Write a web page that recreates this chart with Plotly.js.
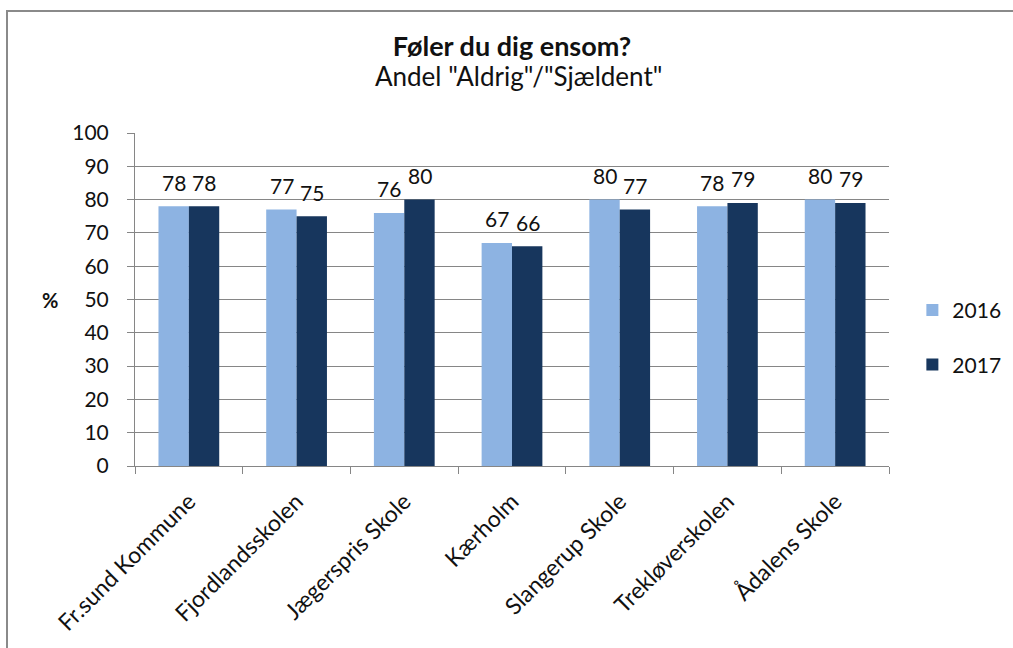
<!DOCTYPE html>
<html>
<head>
<meta charset="utf-8">
<script src="https://cdn.plot.ly/plotly-3.0.1.min.js"></script>
<style>
  html, body { margin: 0; padding: 0; background: #fff; }
  #wrap { position: relative; width: 1013px; height: 648px; }
  #chart { position: absolute; left: 0; top: 0; width: 1013px; height: 648px; }
  #frame { position: absolute; left: 6px; top: 10px; width: 1020px; height: 700px;
           border-left: 2px solid #8a8a8a; border-top: 2px solid #8a8a8a; pointer-events: none; }
</style>
</head>
<body>
<div id="wrap">
  <div id="chart"></div>
  <div id="frame"></div>
</div>
<script>
const categories = ["Fr.sund Kommune", "Fjordlandsskolen", "Jægerspris Skole", "Kærholm", "Slangerup Skole", "Trekløverskolen", "Ådalens Skole"];
const values2016 = [78, 77, 76, 67, 80, 78, 80];
const values2017 = [78, 75, 80, 66, 77, 79, 79];
const seriesNames = ["2016", "2017"];
const titleText = "Føler du dig ensom?";
const subtitleText = 'Andel "Aldrig"/"Sjældent"';
const yLabel = "%";

const FONT = "Lato, 'Open Sans', sans-serif";
const colors = ["#8db3e2", "#17365d"];

const traces = [values2016, values2017].map((vals, i) => ({
  type: "bar",
  name: seriesNames[i],
  x: categories,
  y: vals,
  marker: { color: colors[i], line: { width: 0 } },
  hoverinfo: "x+y+name",
  legendgroup: "g" + i
}));

const annotations = [];
[values2016, values2017].forEach((vals, i) => {
  vals.forEach((v, j) => {
    annotations.push({
      x: categories[j], y: v, xref: "x", yref: "y",
      text: String(v), showarrow: false,
      xshift: i === 0 ? -15 : 15.5, yshift: 24, yanchor: "middle",
      font: { family: FONT, size: 21, color: "#111" }
    });
  });
});
annotations.push({
  xref: "paper", yref: "paper", x: 0.508, y: 1.17, xanchor: "center", yanchor: "middle",
  text: subtitleText, showarrow: false,
  font: { family: FONT, size: 26, color: "#111" }
});
annotations.push({
  xref: "paper", yref: "paper", x: -0.113, y: 0.5, xanchor: "center", yanchor: "middle",
  text: "<b>" + yLabel + "</b>", showarrow: false,
  font: { family: FONT, size: 20, color: "#111" }
});

const layout = {
  width: 1013, height: 648,
  margin: { l: 135, r: 124, t: 133, b: 182, pad: 0, autoexpand: false },
  paper_bgcolor: "rgba(0,0,0,0)", plot_bgcolor: "#fff",
  font: { family: FONT, size: 21, color: "#111" },
  title: {
    text: "<b>" + titleText + "</b>",
    x: 0.5, xref: "paper", xanchor: "center",
    y: 1 - 47 / 648, yref: "container", yanchor: "middle",
    font: { family: FONT, size: 27, color: "#111" }
  },
  barmode: "group",
  bargap: 0.436,
  bargroupgap: 0,
  showlegend: true,
  legend: {
    x: 1.031, xanchor: "left", y: 0.386, yanchor: "middle",
    font: { family: FONT, size: 21, color: "#111" },
    traceorder: "grouped", tracegroupgap: 24,
    bgcolor: "rgba(0,0,0,0)"
  },
  xaxis: {
    type: "category",
    tickangle: -45,
    showline: true, linecolor: "#868686", linewidth: 1,
    ticks: "outside", ticklen: 7, tickcolor: "#868686", tickson: "boundaries",
    showgrid: false, zeroline: false,
    tickfont: { family: FONT, size: 23, color: "#111" },
    ticklabelstandoff: 12
  },
  yaxis: {
    range: [0, 100], dtick: 10, tick0: 0,
    showline: true, linecolor: "#868686", linewidth: 1,
    ticks: "outside", ticklen: 7, tickcolor: "#868686",
    showgrid: true, gridcolor: "#868686", gridwidth: 1,
    zeroline: false,
    tickfont: { family: FONT, size: 21, color: "#111" },
    ticklabelstandoff: 14
  },
  annotations: annotations
};

Plotly.newPlot("chart", traces, layout, { displayModeBar: false, staticPlot: true });
</script>
</body>
</html>
